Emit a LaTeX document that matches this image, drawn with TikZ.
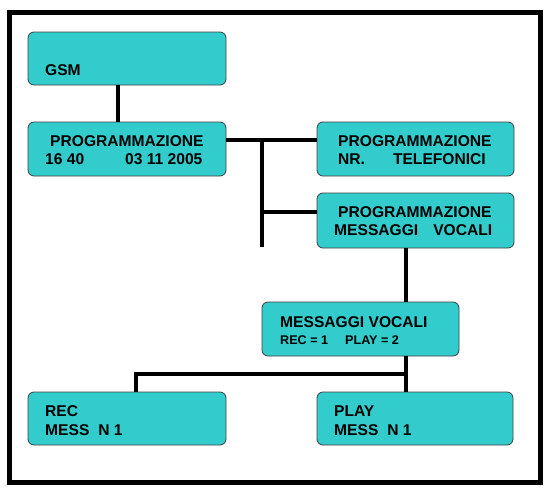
\documentclass[tikz,border=0pt]{standalone}
\usepackage{fontspec}
\setmainfont{Liberation Sans}
\usepackage{xcolor}
\definecolor{boxcyan}{RGB}{51,204,204}
\tikzset{
  menubox/.style={draw=black!75, line width=0.8pt, fill=boxcyan, rounded corners=6pt,
    minimum width=198pt, minimum height=54pt, inner sep=0pt},
  boxtext/.style={anchor=base west, inner sep=0pt, font=\bfseries\fontsize{15.6}{18}\selectfont},
  smalltext/.style={boxtext, font=\bfseries\fontsize{12.6}{15}\selectfont},
  link/.style={line width=3.5pt},
}
\begin{document}
\begin{tikzpicture}[x=1pt,y=-1pt]
      \useasboundingbox (0,0) rectangle (560,498);
      \draw[line width=5pt] (9.5,12.5) rectangle (540.5,482.5);
      % boxes
      \node[menubox, minimum height=53pt] (gsm) at (127,58.5) {};
      \node[menubox] (prog) at (127,149) {};
      \node[menubox, minimum width=197pt] (tel) at (415.5,149) {};
      \node[menubox, minimum width=197pt, minimum height=55pt] (msgprog) at (415.5,220.5) {};
      \node[menubox, minimum width=197pt] (voc) at (360.5,329) {};
      \node[menubox, minimum height=53pt] (rec) at (127,418.5) {};
      \node[menubox, minimum width=196pt, minimum height=53pt] (play) at (415,418.5) {};
      % texts
      \node[boxtext] (gsmtxt) at (45,75) {GSM};
      \node[boxtext] (progtxta) at (50,146) {PROGRAMMAZIONE};
      \node[boxtext] (progtxtb) at (45,164) {16 40\hspace{41pt}03 11 2005};
      \node[boxtext] (teltxta) at (338,146) {PROGRAMMAZIONE};
      \node[boxtext] (teltxtb) at (338,164) {NR.\hspace{28pt}TELEFONICI};
      \node[boxtext] (msgtxta) at (338,217) {PROGRAMMAZIONE};
      \node[boxtext] (msgtxtb) at (334,235) {MESSAGGI\hspace{15pt}VOCALI};
      \node[boxtext] (voctxta) at (280,327) {MESSAGGI VOCALI};
      \node[smalltext] (voctxtb) at (280,344) {REC = 1\hspace{17pt}PLAY = 2};
      \node[boxtext] (rectxta) at (45,416) {REC};
      \node[boxtext] (rectxtb) at (45,435) {MESS\hspace{9pt}N 1};
      \node[boxtext] (playtxta) at (334,416) {PLAY};
      \node[boxtext] (playtxtb) at (334,435) {MESS\hspace{9pt}N 1};
      % connectors
      \coordinate (trunk) at (262,140);
      \coordinate (trunkend) at (262,247);
      \coordinate (spine) at (406,0);
      \coordinate (fork) at (136,374);
      \coordinate (branch) at ([yshift=8.5pt]msgprog.west);
      \draw[link] ([xshift=-9pt]gsm.south) -- ([xshift=-9pt]prog.north);
      \draw[link] ([yshift=9pt]prog.east) -- ([yshift=9pt]tel.west);
      \draw[link] (trunk) -- (trunkend);
      \draw[link] (branch -| trunk) -- (branch);
      \draw[link] (msgprog.south -| spine) -- (voc.north -| spine);
      \draw[link] (voc.south -| spine) -- (play.north -| spine);
      \draw[link] (fork -| spine) -- (fork) -- (rec.north -| fork);
\end{tikzpicture}
\end{document}
